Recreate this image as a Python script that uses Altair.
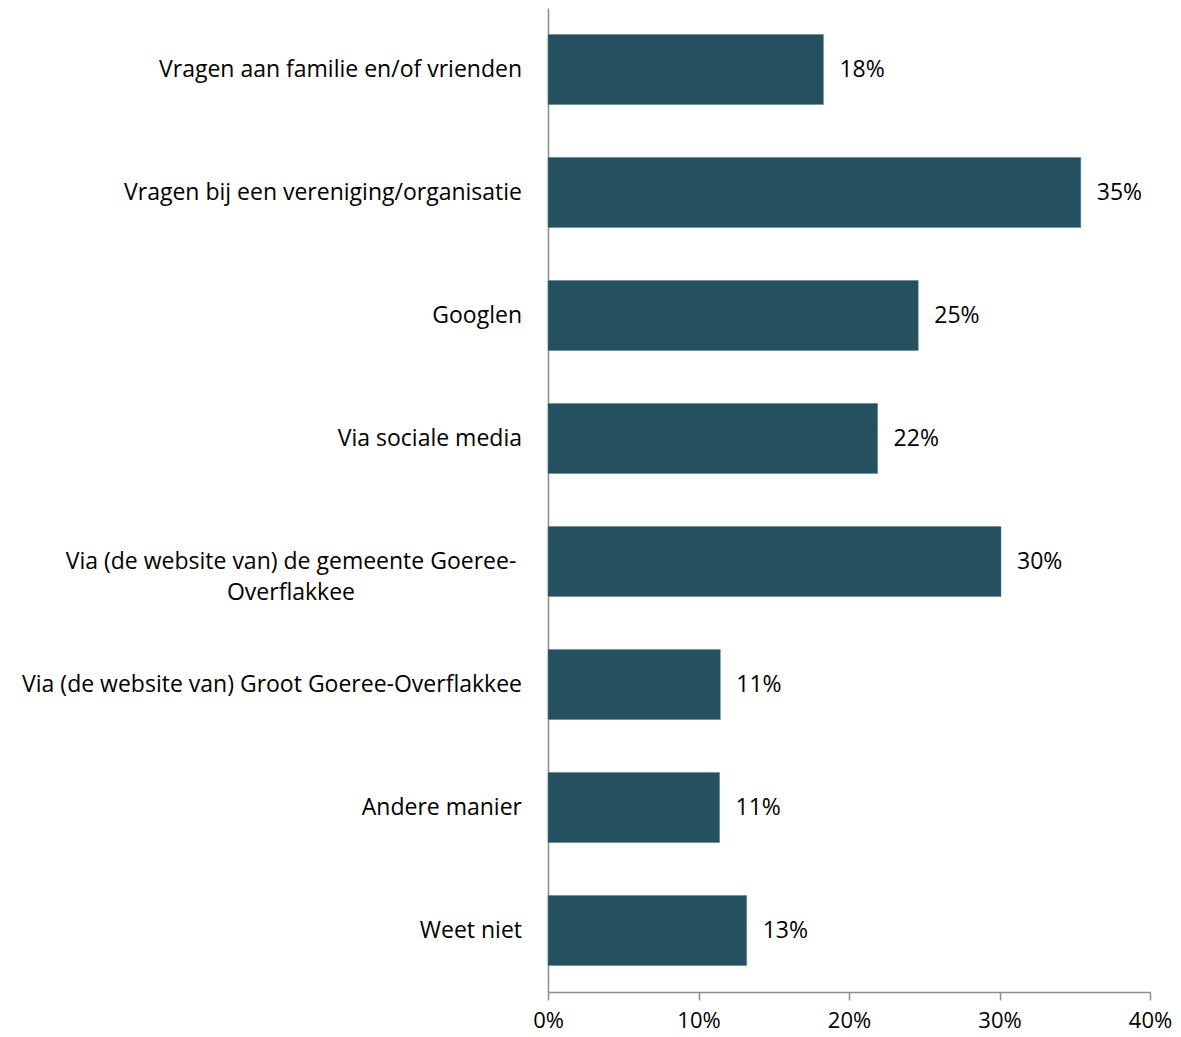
import altair as alt
import pandas as pd

categories = [
    "Vragen aan familie en/of vrienden",
    "Vragen bij een vereniging/organisatie",
    "Googlen",
    "Via sociale media",
    "Via (de website van) de gemeente Goeree-Overflakkee",
    "Via (de website van) Groot Goeree-Overflakkee",
    "Andere manier",
    "Weet niet",
]
values = [18.3, 35.4, 24.6, 21.9, 30.1, 11.45, 11.4, 13.2]
x_ticks = [0, 10, 20, 30, 40]

df = pd.DataFrame({"cat": categories, "val": values})

FONT = "Open Sans"
FS = 23
BAR = "#245060"
LONG = "Via (de website van) de gemeente Goeree-Overflakkee"

y_enc = alt.Y("cat:N", sort=categories, title=None,
              scale=alt.Scale(paddingInner=0.43, paddingOuter=0.215),
              axis=alt.Axis(labels=False, ticks=False, domainColor="#8c8c8c",
                            domainWidth=1.5, grid=False))

bars = alt.Chart(df).mark_bar(color=BAR, stroke="#5a7f8c", strokeWidth=0.5).encode(
    x=alt.X("val:Q", title=None,
            scale=alt.Scale(domain=[0, 40], nice=False, zero=True),
            axis=alt.Axis(values=x_ticks, labelExpr="datum.value + '%'",
                          grid=False, domainColor="#8c8c8c", domainWidth=1.5,
                          tickColor="#8c8c8c", tickWidth=1.5, tickSize=8,
                          labelFont=FONT, labelFontSize=22, labelColor="#000000",
                          labelFlush=False, labelPadding=10)),
    y=y_enc,
)

vals = alt.Chart(df).transform_calculate(
    lbl="format(datum.val, '.0f') + '%'"
).mark_text(align="left", baseline="middle", dx=16,
            font=FONT, fontSize=FS, color="#000000").encode(
    x="val:Q", y=alt.Y("cat:N", sort=categories), text="lbl:N")

cat_labels = alt.Chart(df).transform_filter(alt.datum.cat != LONG).mark_text(
    align="right", baseline="middle", font=FONT, fontSize=FS, color="#000000"
).encode(x=alt.value(-26), y=alt.Y("cat:N", sort=categories), text="cat:N")

long_label = alt.Chart(df).transform_filter(alt.datum.cat == LONG).transform_calculate(
    lines="['Via (de website van) de gemeente Goeree-', 'Overflakkee']"
).mark_text(align="center", baseline="middle", font=FONT, fontSize=FS,
            color="#000000", lineHeight=31).encode(
    x=alt.value(-257), y=alt.Y("cat:N", sort=categories), text="lines:N")

chart = alt.layer(bars, vals, cat_labels, long_label).properties(
    width=602, height=984,
    autosize=alt.AutoSizeParams(type="none"),
    padding={"left": 540, "top": 0, "right": 22, "bottom": 40},
).configure_view(stroke=None)

chart.save("out.html", embed_options={"renderer": "svg", "actions": False})
